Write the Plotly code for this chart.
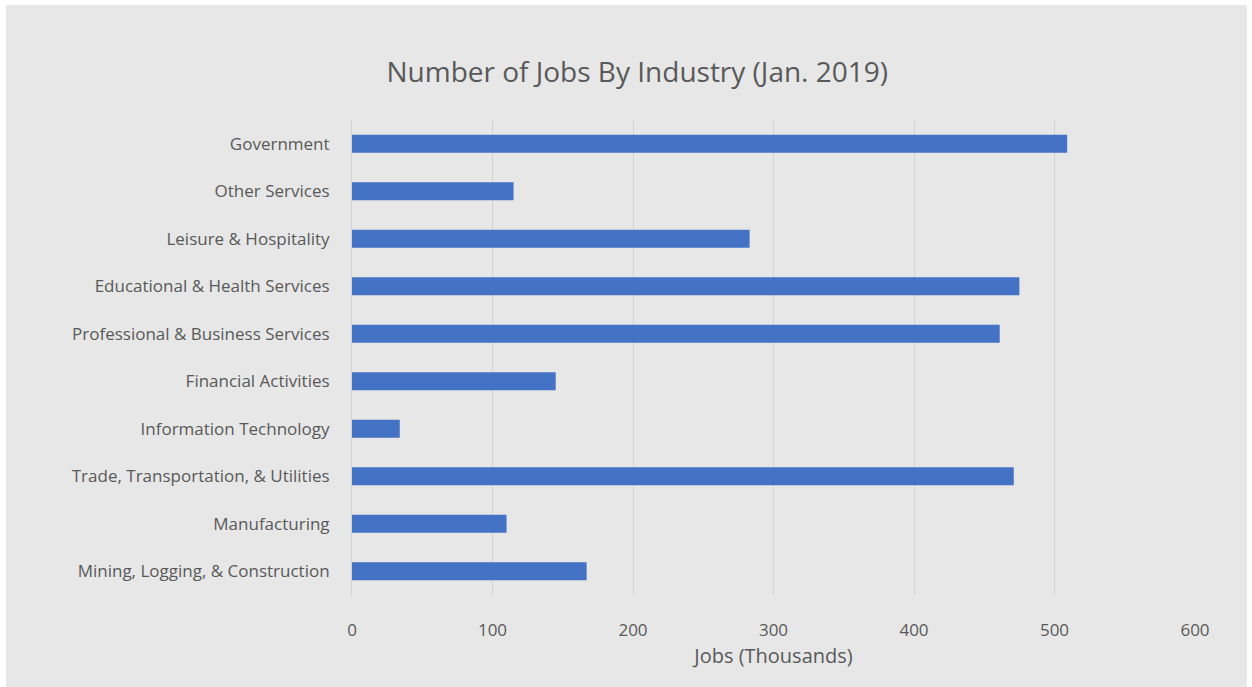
import plotly.graph_objects as go

industries = [
    "Mining, Logging, & Construction",
    "Manufacturing",
    "Trade, Transportation, & Utilities",
    "Information Technology",
    "Financial Activities",
    "Professional & Business Services",
    "Educational & Health Services",
    "Leisure & Hospitality",
    "Other Services",
    "Government",
]
jobs = [167, 110, 471, 34, 145, 461, 475, 283, 115, 509]

x_ticks = [0, 100, 200, 300, 400, 500, 600]

TXT = "#595959"
FONT = "Open Sans"

fig = go.Figure()
fig.add_trace(go.Bar(
    y=industries, x=jobs, orientation="h",
    marker=dict(color="#4472C4", line=dict(width=0)),
))

fig.update_layout(
    width=1252, height=687,
    paper_bgcolor="white",
    plot_bgcolor="rgba(0,0,0,0)",
    margin=dict(l=352, r=57, t=120, b=92),
    bargap=0.62,
    showlegend=False,
    font=dict(family=FONT, color=TXT, size=17),
    title=dict(text="Number of Jobs By Industry (Jan. 2019)", x=0.509, xanchor="center",
               y=1 - 72 / 687, yanchor="middle", font=dict(size=28, color=TXT, family=FONT)),
    shapes=[dict(type="rect", xref="paper", yref="paper", layer="below",
                 x0=-346 / 843, x1=(1247 - 352) / 843,
                 y0=-92 / 475, y1=(682 - 92) / 475 + 0.0,
                 fillcolor="#e7e7e7", line=dict(width=0))],
    xaxis=dict(range=[0, 600], tickvals=x_ticks, showgrid=True, gridcolor="#d2d2d2", gridwidth=1,
               zeroline=False, showline=False, ticks="outside", ticklen=20, tickcolor="rgba(0,0,0,0)",
               tickfont=dict(size=17, color=TXT),
               title=dict(text="Jobs (Thousands)", font=dict(size=20, color=TXT), standoff=8),
               fixedrange=True),
    yaxis=dict(showgrid=False, zeroline=False, showline=True, linecolor="#d2d2d2", linewidth=1,
               ticks="outside", ticklen=18, tickcolor="rgba(0,0,0,0)",
               tickfont=dict(size=17, color=TXT), fixedrange=True),
)

fig.write_html("out.html")
